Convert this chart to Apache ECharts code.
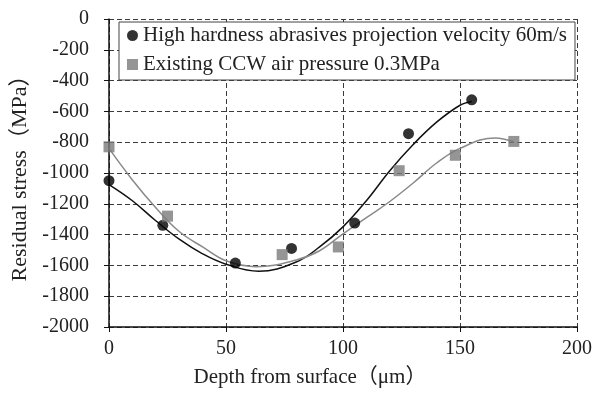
<!DOCTYPE html>
<html>
<head>
<meta charset="utf-8">
<script src="https://cdn.jsdelivr.net/npm/echarts@6/dist/echarts.min.js"></script>
<style>
  html, body { margin: 0; padding: 0; background: #fff; }
  #chart { width: 595px; height: 396px; }
</style>
</head>
<body>
<div id="chart"></div>
<script>
// measured points
const highDepth = [0, 23, 54, 78, 105, 128, 155];
const highStress = [-1050, -1340, -1585, -1490, -1325, -745, -525];
const ccwDepth = [0, 25, 74, 98, 124, 148, 173];
const ccwStress = [-830, -1280, -1530, -1480, -985, -885, -795];

// trend curves
const highCurveDepth = [0, 10, 20, 30, 40, 50, 64, 80, 90, 100, 110, 120, 130, 140, 150, 155];
const highCurveStress = [-1075, -1180, -1310, -1430, -1525, -1592, -1638, -1578, -1480, -1350, -1180, -985, -815, -670, -560, -535];
const ccwCurveDepth = [0, 10, 20, 30, 40, 50, 63, 80, 90, 100, 110, 120, 130, 140, 150, 165, 173];
const ccwCurveStress = [-840, -1045, -1225, -1380, -1480, -1570, -1608, -1565, -1505, -1395, -1290, -1185, -1065, -935, -840, -772, -797];

const seriesNames = [
    'High hardness abrasives projection velocity 60m/s',
    'Existing CCW air pressure 0.3MPa'
];

const serif = "'Liberation Serif', 'Noto Sans CJK JP', serif";

function pairs(xs, ys) {
    return xs.map((x, i) => [x, ys[i]]);
}

const chart = echarts.init(document.getElementById('chart'));

const gridLine = { show: true, lineStyle: { color: '#3a3a3a', width: 1, type: [5, 3] } };

chart.setOption({
    animation: false,
    backgroundColor: '#fff',
    grid: { left: 109, right: 10, top: 19, bottom: 69 },
    legend: {
        orient: 'vertical',
        left: 119,
        top: 22,
        padding: [3, 8, 5, 8],
        itemGap: 8,
        itemWidth: 11,
        itemHeight: 11,
        backgroundColor: '#fff',
        borderColor: '#444',
        borderWidth: 1,
        borderRadius: 0,
        data: [
            { name: seriesNames[0], icon: 'circle' },
            { name: seriesNames[1], icon: 'rect' }
        ],
        textStyle: { fontFamily: serif, fontSize: 21, color: '#222', lineHeight: 21 }
    },
    xAxis: {
        type: 'value',
        min: 0,
        max: 200,
        interval: 50,
        name: 'Depth from surface（μm）',
        nameLocation: 'middle',
        nameGap: 40,
        nameTextStyle: { fontFamily: serif, fontSize: 21, color: '#222', padding: [0, 66, 0, 0] },
        axisLine: { show: true, onZero: false, lineStyle: { color: '#111', width: 1.5 } },
        axisTick: { show: true, length: 5, lineStyle: { color: '#111' } },
        axisLabel: { margin: 12, fontFamily: serif, fontSize: 20, color: '#222' },
        splitLine: gridLine
    },
    yAxis: {
        type: 'value',
        min: -2000,
        max: 0,
        interval: 200,
        name: 'Residual stress（MPa）',
        nameLocation: 'middle',
        nameRotate: 90,
        nameGap: 70,
        nameTextStyle: { fontFamily: serif, fontSize: 22, color: '#222' },
        axisLine: { show: true, onZero: false, lineStyle: { color: '#111', width: 1.5 } },
        axisTick: { show: true, length: 5, lineStyle: { color: '#111' } },
        axisLabel: {
            margin: 20, fontFamily: serif, fontSize: 20, color: '#222',
            formatter: value => String(value)
        },
        splitLine: gridLine
    },
    series: [
        {
            name: 'high-trend',
            type: 'line',
            smooth: 0.4,
            showSymbol: false,
            silent: true,
            lineStyle: { color: '#111', width: 1.5 },
            data: pairs(highCurveDepth, highCurveStress),
            z: 2
        },
        {
            name: 'ccw-trend',
            type: 'line',
            smooth: 0.4,
            showSymbol: false,
            silent: true,
            lineStyle: { color: '#8a8a8a', width: 1.5 },
            data: pairs(ccwCurveDepth, ccwCurveStress),
            z: 2
        },
        {
            name: seriesNames[0],
            type: 'scatter',
            symbol: 'circle',
            symbolSize: 11,
            itemStyle: { color: '#000' },
            data: pairs(highDepth, highStress),
            z: 3
        },
        {
            name: seriesNames[1],
            type: 'scatter',
            symbol: 'rect',
            symbolSize: 11,
            itemStyle: { color: '#7a7a7a' },
            data: pairs(ccwDepth, ccwStress),
            z: 3
        }
    ]
});
</script>
</body>
</html>
